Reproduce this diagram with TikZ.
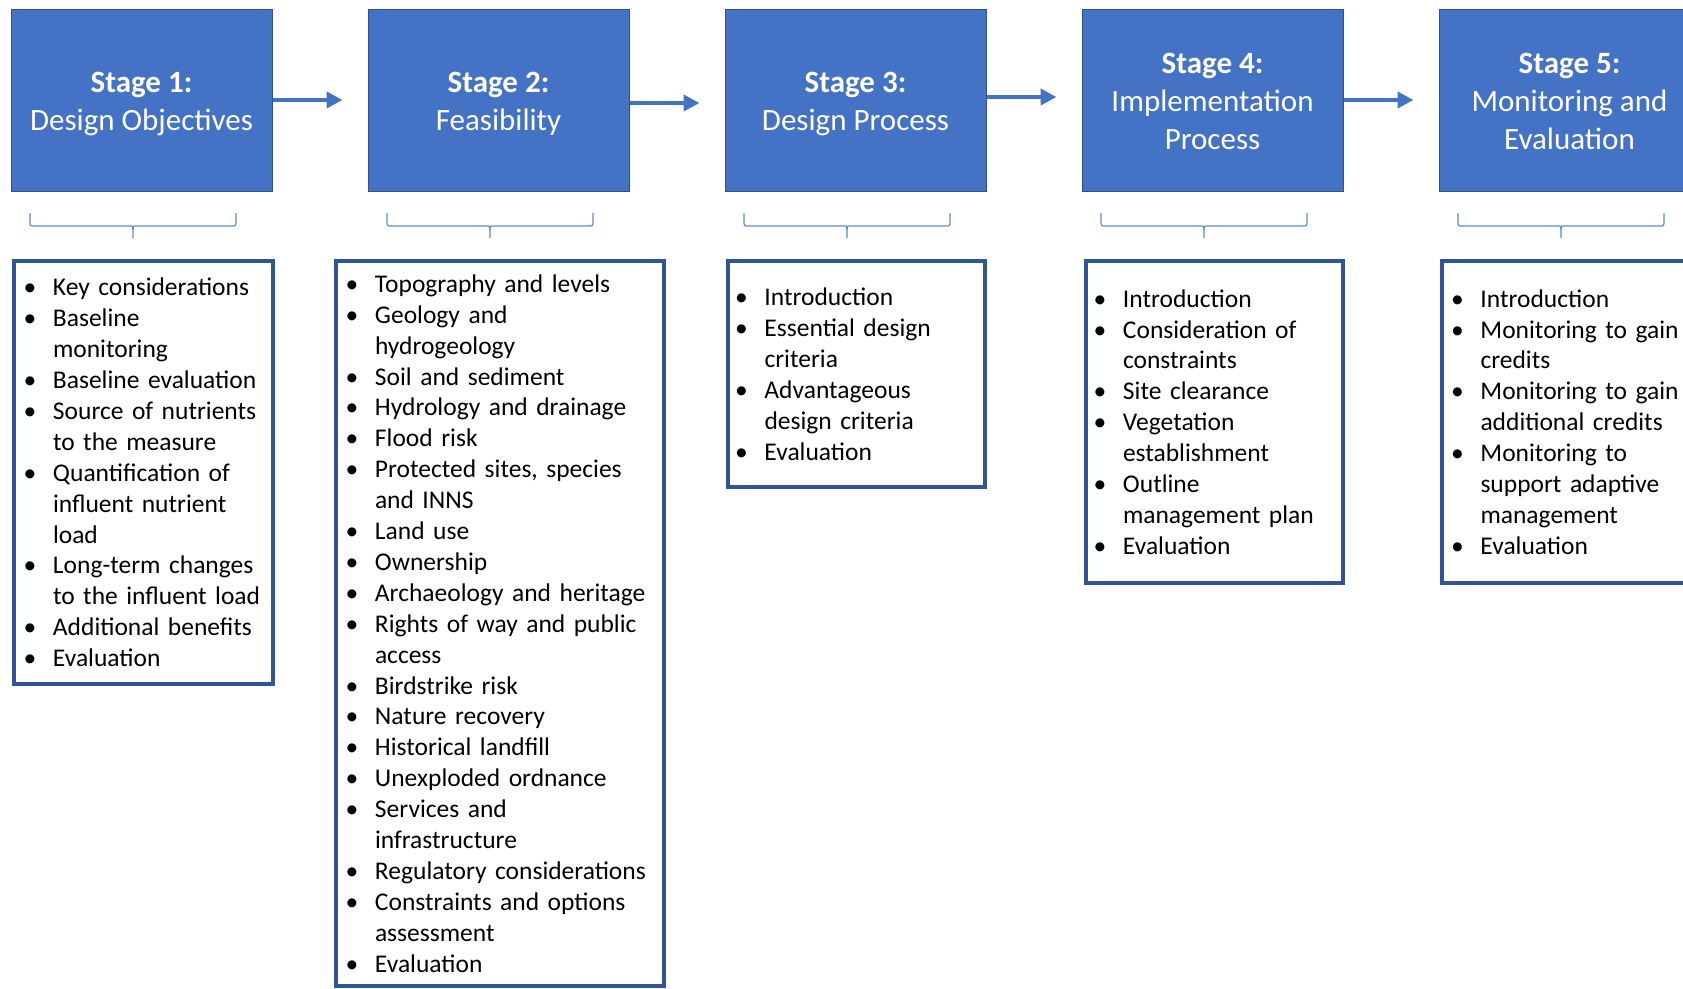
\documentclass[tikz,border=0pt]{standalone}
\usepackage{fontspec}
\setmainfont{Carlito}
\usetikzlibrary{arrows.meta}
\definecolor{boxblue}{RGB}{68,114,196}
\definecolor{edgeblue}{RGB}{47,82,143}
\definecolor{listblue}{RGB}{47,85,151}
\definecolor{braceblue}{RGB}{91,138,208}
\tikzset{
 stagebox/.style={rectangle, fill=boxblue, draw=edgeblue, line width=1pt, minimum width=261pt, minimum height=182pt, text=white, align=center, font=\fontsize{31}{38}\selectfont, inner sep=0pt},
 listbox/.style={rectangle, draw=listblue, line width=4pt, anchor=north west, inner ysep=0pt, align=left, font=\fontsize{25.5}{30.9}\selectfont},
 flowarrow/.style={draw=boxblue, line width=4pt, -{Triangle[length=16pt,width=16pt]}, shorten >=25pt},
 bracestyle/.style={draw=braceblue, line width=1.2pt}
}
\newcommand{\bi}[1]{\mbox{\makebox[25pt][l]{\hspace{-4.3pt}•}#1}}
\newcommand{\ci}[1]{\mbox{\hspace*{25pt}#1}}
\newcommand{\tstr}{\rule{0pt}{34.5pt}}
\newcommand{\bstr}{\rule[-11.4pt]{0pt}{11.4pt}}
\begin{document}
\begin{tikzpicture}[x=1pt,y=-1pt]
\useasboundingbox (0,0) rectangle (1683,988);
\clip (0,0) rectangle (1683,988);
% stage boxes
\node[stagebox] (s1) at (141.5,100) {\tstr\textbf{Stage 1:}\\Design Objectives\bstr};
\node[stagebox] (s2) at (498.5,100) {\tstr\textbf{Stage 2:}\\Feasibility\bstr};
\node[stagebox] (s3) at (855.5,100) {\tstr\textbf{Stage 3:}\\Design Process\bstr};
\node[stagebox] (s4) at (1212.5,100) {\tstr\textbf{Stage 4:}\\Implementation\\Process\bstr};
\node[stagebox] (s5) at (1569.5,100) {\tstr\textbf{Stage 5:}\\Monitoring and\\Evaluation\bstr};
% arrows
\draw[flowarrow] (s1.east) -- (s2.west);
\draw[flowarrow] ([yshift=-3pt]s2.east) -- ([yshift=-3pt]s3.west);
\draw[flowarrow] ([yshift=3pt]s3.east) -- ([yshift=3pt]s4.west);
\draw[flowarrow] (s4.east) -- (s5.west);
% braces
\foreach \L in {30,387,744,1101,1458}{
 \pgfmathsetmacro\C{\L+103}
 \pgfmathsetmacro\R{\L+206}
 \draw[bracestyle] (\L,213) -- (\L,221) .. controls (\L,226) .. (\L+5,226) -- (\C-4,226) .. controls (\C,226) .. (\C,230) -- (\C,238);
 \draw[bracestyle] (\C,230) .. controls (\C,226) .. (\C+4,226) -- (\R-5,226) .. controls (\R,226) .. (\R,221) -- (\R,213);
}
% list boxes
\node[listbox, inner xsep=14pt, text width=231pt, minimum height=423pt] (l1) at (12,259) {%
\bi{Key considerations}\\
\bi{Baseline}\\
\ci{monitoring}\\
\bi{Baseline evaluation}\\
\bi{Source of nutrients}\\
\ci{to the measure}\\
\bi{Quantification of}\\
\ci{influent nutrient}\\
\ci{load}\\
\bi{Long-term changes}\\
\ci{to the influent load}\\
\bi{Additional benefits}\\
\bi{Evaluation}};
\node[listbox, inner xsep=14pt, text width=300pt, minimum height=725pt] (l2) at (334,259) {%
\bi{Topography and levels}\\
\bi{Geology and}\\
\ci{hydrogeology}\\
\bi{Soil and sediment}\\
\bi{Hydrology and drainage}\\
\bi{Flood risk}\\
\bi{Protected sites, species}\\
\ci{and INNS}\\
\bi{Land use}\\
\bi{Ownership}\\
\bi{Archaeology and heritage}\\
\bi{Rights of way and public}\\
\ci{access}\\
\bi{Birdstrike risk}\\
\bi{Nature recovery}\\
\bi{Historical landfill}\\
\bi{Unexploded ordnance}\\
\bi{Services and}\\
\ci{infrastructure}\\
\bi{Regulatory considerations}\\
\bi{Constraints and options}\\
\ci{assessment}\\
\bi{Evaluation}};
\node[listbox, inner xsep=11.5pt, text width=234pt, minimum height=226pt] (l3) at (726,259) {%
\bi{Introduction}\\
\bi{Essential design}\\
\ci{criteria}\\
\bi{Advantageous}\\
\ci{design criteria}\\
\bi{Evaluation}};
\node[listbox, inner xsep=12pt, text width=233pt, minimum height=322pt] (l4) at (1084,259) {%
\bi{Introduction}\\
\bi{Consideration of}\\
\ci{constraints}\\
\bi{Site clearance}\\
\bi{Vegetation}\\
\ci{establishment}\\
\bi{Outline}\\
\ci{management plan}\\
\bi{Evaluation}};
\node[listbox, inner xsep=13.5pt, text width=231pt, minimum height=322pt] (l5) at (1440,259) {%
\bi{Introduction}\\
\bi{Monitoring to gain}\\
\ci{credits}\\
\bi{Monitoring to gain}\\
\ci{additional credits}\\
\bi{Monitoring to}\\
\ci{support adaptive}\\
\ci{management}\\
\bi{Evaluation}};
\end{tikzpicture}
\end{document}
